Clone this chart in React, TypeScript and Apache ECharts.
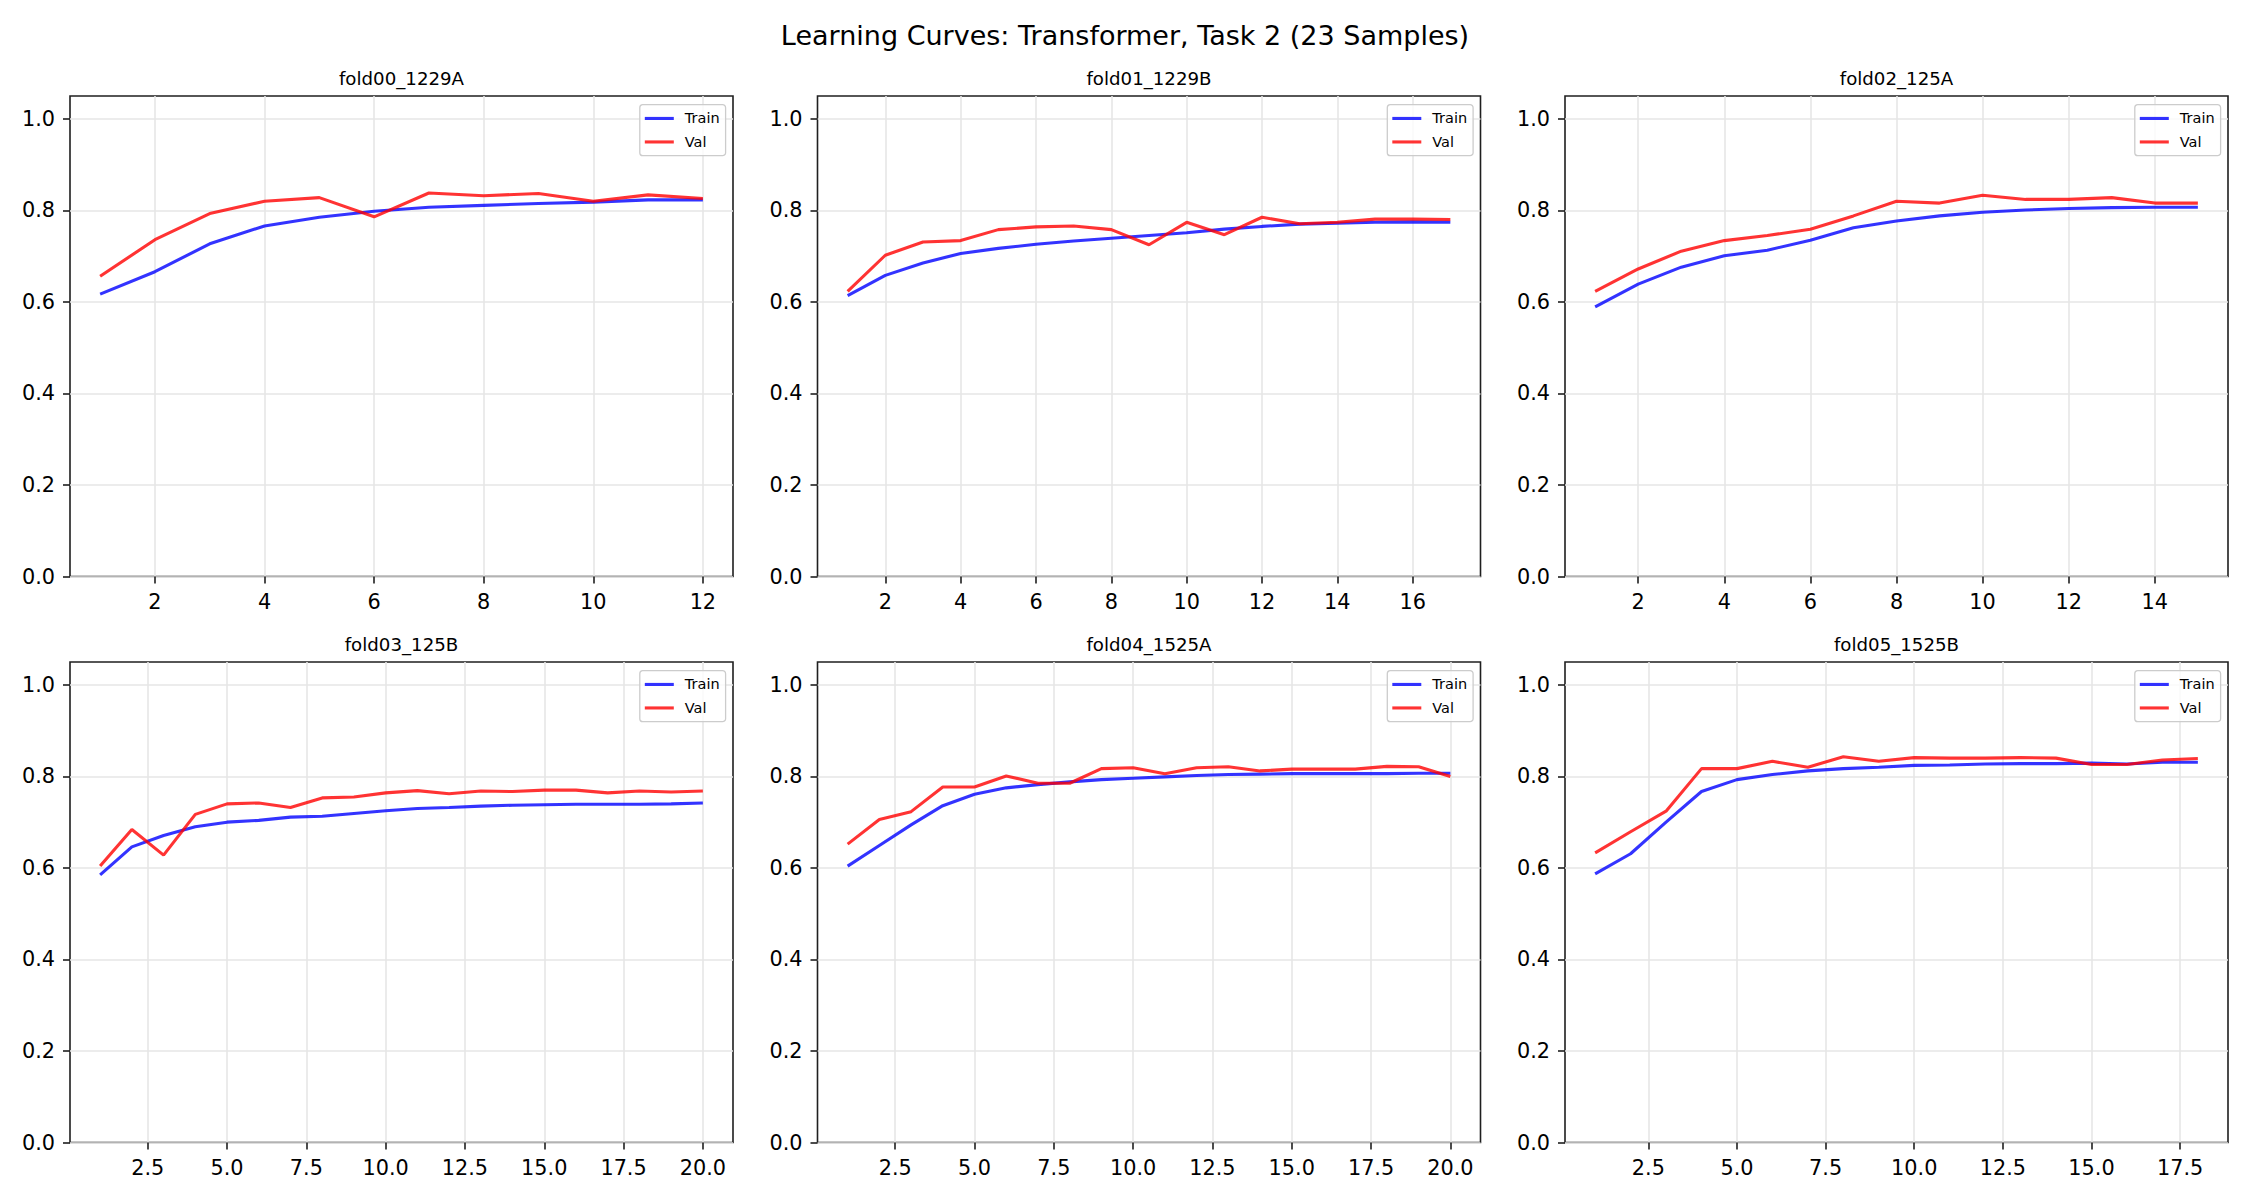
import React, { useEffect, useRef } from "react";
import * as echarts from "echarts";

// ---- Figure text ----
const SUPTITLE = "Learning Curves: Transformer, Task 2 (23 Samples)";
const foldNames = [
  "fold00_1229A",
  "fold01_1229B",
  "fold02_125A",
  "fold03_125B",
  "fold04_1525A",
  "fold05_1525B",
];
const seriesNames = ["Train", "Val"];

// ---- Per-epoch accuracy (epoch = index + 1) ----
const train00 = [0.617, 0.666, 0.727, 0.766, 0.785, 0.798, 0.807, 0.811, 0.815, 0.818, 0.823, 0.823];
const val00 = [0.656, 0.736, 0.793, 0.82, 0.828, 0.786, 0.838, 0.832, 0.837, 0.82, 0.834, 0.826];

const train01 = [0.614, 0.658, 0.685, 0.706, 0.717, 0.726, 0.733, 0.739, 0.745, 0.751, 0.759, 0.765, 0.77, 0.772, 0.774, 0.775, 0.774];
const val01 = [0.623, 0.702, 0.731, 0.734, 0.758, 0.764, 0.766, 0.758, 0.725, 0.774, 0.747, 0.785, 0.771, 0.774, 0.781, 0.781, 0.78];

const train02 = [0.589, 0.639, 0.676, 0.701, 0.713, 0.735, 0.762, 0.777, 0.788, 0.796, 0.801, 0.804, 0.806, 0.807, 0.807];
const val02 = [0.623, 0.672, 0.711, 0.734, 0.745, 0.759, 0.788, 0.82, 0.816, 0.833, 0.824, 0.824, 0.828, 0.816, 0.816];

const train03 = [0.585, 0.646, 0.671, 0.69, 0.7, 0.704, 0.711, 0.713, 0.719, 0.725, 0.73, 0.732, 0.735, 0.737, 0.738, 0.739, 0.739, 0.739, 0.74, 0.742];
const val03 = [0.604, 0.684, 0.628, 0.717, 0.74, 0.742, 0.732, 0.753, 0.755, 0.764, 0.769, 0.762, 0.768, 0.767, 0.77, 0.77, 0.764, 0.768, 0.766, 0.768];

const train04 = [0.604, 0.649, 0.694, 0.736, 0.761, 0.775, 0.782, 0.788, 0.793, 0.796, 0.799, 0.802, 0.804, 0.805, 0.806, 0.806, 0.806, 0.806, 0.807, 0.807];
const val04 = [0.652, 0.706, 0.723, 0.777, 0.777, 0.801, 0.785, 0.785, 0.817, 0.819, 0.806, 0.819, 0.821, 0.812, 0.816, 0.816, 0.816, 0.822, 0.821, 0.8];

const train05 = [0.587, 0.631, 0.7, 0.767, 0.793, 0.804, 0.812, 0.817, 0.82, 0.824, 0.825, 0.827, 0.828, 0.828, 0.829, 0.827, 0.831, 0.831];
const val05 = [0.633, 0.679, 0.724, 0.817, 0.817, 0.833, 0.82, 0.843, 0.833, 0.841, 0.84, 0.84, 0.841, 0.84, 0.826, 0.826, 0.836, 0.839];

// ---- Tick values ----
const xTicks00 = [2, 4, 6, 8, 10, 12];
const xTicks01 = [2, 4, 6, 8, 10, 12, 14, 16];
const xTicks02 = [2, 4, 6, 8, 10, 12, 14];
const xTicksHalf = [2.5, 5, 7.5, 10, 12.5, 15, 17.5, 20];
const yTicks = [0, 0.2, 0.4, 0.6, 0.8, 1.0];
const Y_MAX = 1.05;

const panels = [
  { train: train00, val: val00, ticks: xTicks00, decimals: 0 },
  { train: train01, val: val01, ticks: xTicks01, decimals: 0 },
  { train: train02, val: val02, ticks: xTicks02, decimals: 0 },
  { train: train03, val: val03, ticks: xTicksHalf, decimals: 1 },
  { train: train04, val: val04, ticks: xTicksHalf, decimals: 1 },
  { train: train05, val: val05, ticks: xTicksHalf.slice(0, 7), decimals: 1 },
];

// ---- Layout / style ----
const W = 2250;
const H = 1200;
const FONT = "DejaVu Sans";
const FRAME = "#1f1f1f";
const GRIDLINE = "#e6e6e6";
const TRAIN_COLOR = "rgba(0,0,255,0.8)";
const VAL_COLOR = "rgba(255,0,0,0.8)";
const colLeft = [70, 817.5, 1565];
const rowTop = [96, 662];
const plotW = 663;
const plotH = 480.5;

const toPairs = (vals: number[]) => vals.map((v, i) => [i + 1, v]);

function buildOption() {
  const grid: any[] = [];
  const xAxis: any[] = [];
  const yAxis: any[] = [];
  const series: any[] = [];
  const legend: any[] = [];
  const graphic: any[] = [];

  graphic.push({
    type: "text",
    x: W / 2,
    y: 35,
    style: {
      text: SUPTITLE,
      fill: "#000",
      fontSize: 27,
      fontFamily: FONT,
      align: "center",
      verticalAlign: "middle",
    },
  });

  panels.forEach((p, i) => {
    const left = colLeft[i % 3];
    const top = rowTop[Math.floor(i / 3)];
    const n = p.train.length;
    const pad = (n - 1) * 0.05;

    grid.push({
      left,
      top,
      width: plotW,
      height: plotH,
      show: true,
      borderColor: FRAME,
      borderWidth: 1.6,
      backgroundColor: "transparent",
      containLabel: false,
      outerBoundsMode: "none",
    });

    xAxis.push({
      type: "value",
      gridIndex: i,
      min: 1 - pad,
      max: n + pad,
      axisLine: { show: false },
      axisTick: {
        show: true,
        inside: false,
        length: 7,
        customValues: p.ticks,
        lineStyle: { color: FRAME, width: 1.6 },
      },
      axisLabel: {
        customValues: p.ticks,
        margin: 14.5,
        color: "#000",
        fontSize: 20.8,
        fontFamily: FONT,
        formatter: (v: number) => (p.decimals ? v.toFixed(1) : String(Math.round(v))),
      },
      splitLine: { show: true, lineStyle: { color: GRIDLINE, width: 1.6 } },
    });

    yAxis.push({
      type: "value",
      gridIndex: i,
      min: 0,
      max: Y_MAX,
      axisLine: { show: false },
      axisTick: {
        show: true,
        inside: false,
        length: 7,
        customValues: yTicks,
        lineStyle: { color: FRAME, width: 1.6 },
      },
      axisLabel: {
        customValues: yTicks,
        margin: 15,
        color: "#000",
        fontSize: 20.8,
        fontFamily: FONT,
        formatter: (v: number) => v.toFixed(1),
      },
      splitLine: { show: true, lineStyle: { color: GRIDLINE, width: 1.6 } },
    });

    series.push({
      type: "line",
      name: seriesNames[0],
      xAxisIndex: i,
      yAxisIndex: i,
      data: toPairs(p.train),
      symbol: "none",
      lineStyle: { color: TRAIN_COLOR, width: 3.1 },
      itemStyle: { color: TRAIN_COLOR },
      z: 3,
    });
    series.push({
      type: "line",
      name: seriesNames[1],
      xAxisIndex: i,
      yAxisIndex: i,
      data: toPairs(p.val),
      symbol: "none",
      lineStyle: { color: VAL_COLOR, width: 3.1 },
      itemStyle: { color: VAL_COLOR },
      z: 4,
    });

    legend.push({
      data: seriesNames,
      orient: "vertical",
      right: W - (left + plotW) + 7.4,
      top: top + 8.7,
      icon: "rect",
      itemWidth: 29,
      itemHeight: 3.1,
      itemGap: 8,
      padding: [6, 6, 6, 5],
      selectedMode: false,
      backgroundColor: "rgba(255,255,255,0.8)",
      borderColor: "#cccccc",
      borderWidth: 1.3,
      borderRadius: 3,
      textStyle: {
        color: "#000",
        fontSize: 14.5,
        lineHeight: 15.5,
        fontFamily: FONT,
        padding: [0, 0, 0, 6],
      },
    });

    graphic.push({
      type: "text",
      x: left + plotW / 2,
      y: top - 18,
      style: {
        text: foldNames[i],
        fill: "#000",
        fontSize: 18.2,
        fontFamily: FONT,
        align: "center",
        verticalAlign: "middle",
      },
    });
  });

  return {
    animation: false,
    backgroundColor: "#ffffff",
    textStyle: { fontFamily: FONT },
    grid,
    xAxis,
    yAxis,
    series,
    legend,
    graphic,
  };
}

export default function App() {
  const ref = useRef<HTMLDivElement>(null);

  useEffect(() => {
    if (!ref.current) return;
    const chart = echarts.init(ref.current, undefined, { renderer: "svg" });
    chart.setOption(buildOption() as any);
    return () => chart.dispose();
  }, []);

  return (
    <div
      ref={ref}
      style={{ position: "absolute", left: 0, top: 0, width: W, height: H, background: "#fff" }}
    />
  );
}
